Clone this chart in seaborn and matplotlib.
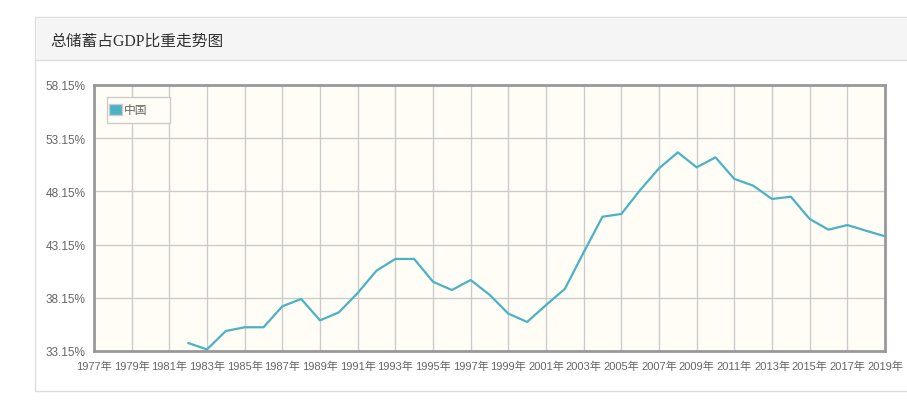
import seaborn as sns
import pandas as pd
import matplotlib.pyplot as plt
from matplotlib.patches import Rectangle
from matplotlib.lines import Line2D

# 总储蓄占GDP比重 (%), 1982-2019
years = list(range(1982, 2020))
saving_rate = [33.90, 33.30, 35.03, 35.38, 35.38, 37.35, 38.04, 36.03, 36.78, 38.60,
               40.70, 41.80, 41.80, 39.66, 38.88, 39.82, 38.44, 36.66, 35.88, 37.47,
               38.98, 42.42, 45.77, 46.03, 48.28, 50.32, 51.82, 50.41, 51.35, 49.32,
               48.69, 47.44, 47.65, 45.56, 44.55, 44.99, 44.45, 43.93]
series_name = "中国"
title = "总储蓄占GDP比重走势图"
x_ticks = list(range(1977, 2020, 2))
y_ticks = [33.15, 38.15, 43.15, 48.15, 53.15, 58.15]

df = pd.DataFrame({"year": years, "rate": saving_rate})

sns.set_style("white")
plt.rcParams['font.family'] = ['Liberation Sans', 'Noto Sans CJK SC']

W, H = 907, 402
fig = plt.figure(figsize=(W / 100, H / 100), dpi=100)
fig.patch.set_facecolor("white")

def fx(px):
    return px / W

def fy(py):
    return 1 - py / H

# outer panel and header strip (behind the axes)
fig.add_artist(Rectangle((fx(35), fy(392)), fx(880), (392 - 18) / H, transform=fig.transFigure,
                         facecolor="white", edgecolor="#dddddd", lw=1, zorder=-3))
fig.add_artist(Rectangle((fx(35.5), fy(61)), fx(880), (61 - 18.5) / H, transform=fig.transFigure,
                         facecolor="#f5f5f5", edgecolor="none", zorder=-2))
fig.add_artist(Line2D([fx(35), fx(907)], [fy(61), fy(61)], transform=fig.transFigure,
                      color="#dddddd", lw=1, zorder=-1))
fig.text(fx(50), fy(41.5), title, fontsize=11.3, color="#333333", va="center", ha="left",
         family=['Liberation Serif', 'Noto Sans CJK SC'])

# plot area
ax = fig.add_axes([fx(94), fy(352), fx(885 - 94), (352 - 86) / H])
ax.set_zorder(2)
ax.set_facecolor("#fffdf6")
sns.lineplot(data=df, x="year", y="rate", ax=ax, color="#4bb2c5", lw=1.6, label=series_name, zorder=3)

ax.set_xlim(1977, 2019)
ax.set_ylim(33.15, 58.15)
ax.set_xticks(x_ticks)
ax.set_xticklabels([f"{y}年" for y in x_ticks])
ax.set_yticks(y_ticks)
ax.set_yticklabels([f"{v:.2f}%" for v in y_ticks])
ax.grid(True, color="#cccccc", lw=1, zorder=0)
ax.set_axisbelow(True)
ax.tick_params(axis="both", colors="#666666", length=4, width=1, direction="out")
ax.tick_params(axis="x", pad=3, labelsize=8)
ax.tick_params(axis="y", pad=2, labelsize=8.5)
for s in ax.spines.values():
    s.set_color("#999999")
    s.set_linewidth(2)
ax.set_xlabel("")
ax.set_ylabel("")

# jqplot-style legend box, wider than its contents
lx0, lx1 = (107 - 94) / 791, (170 - 94) / 791
ly0, ly1 = (352 - 124) / 266, (352 - 98) / 266
ax.add_patch(Rectangle((lx0, ly0), lx1 - lx0, ly1 - ly0, transform=ax.transAxes,
                       facecolor="#fffdf6", edgecolor="#cccccc", lw=1, zorder=4))
handle = Rectangle((0, 0), 1, 1, facecolor="#4bb2c5", edgecolor="#cccccc", lw=1)
leg = ax.legend([handle], [series_name], loc="center left",
                bbox_to_anchor=(lx0, (ly0 + ly1) / 2), borderaxespad=0, frameon=False,
                fontsize=8.5, handlelength=1.1, handleheight=1.1, handletextpad=0.1, borderpad=0.2)
leg.set_zorder(5)
for t in leg.get_texts():
    t.set_color("#666666")

fig.savefig("out.png", dpi=100)
